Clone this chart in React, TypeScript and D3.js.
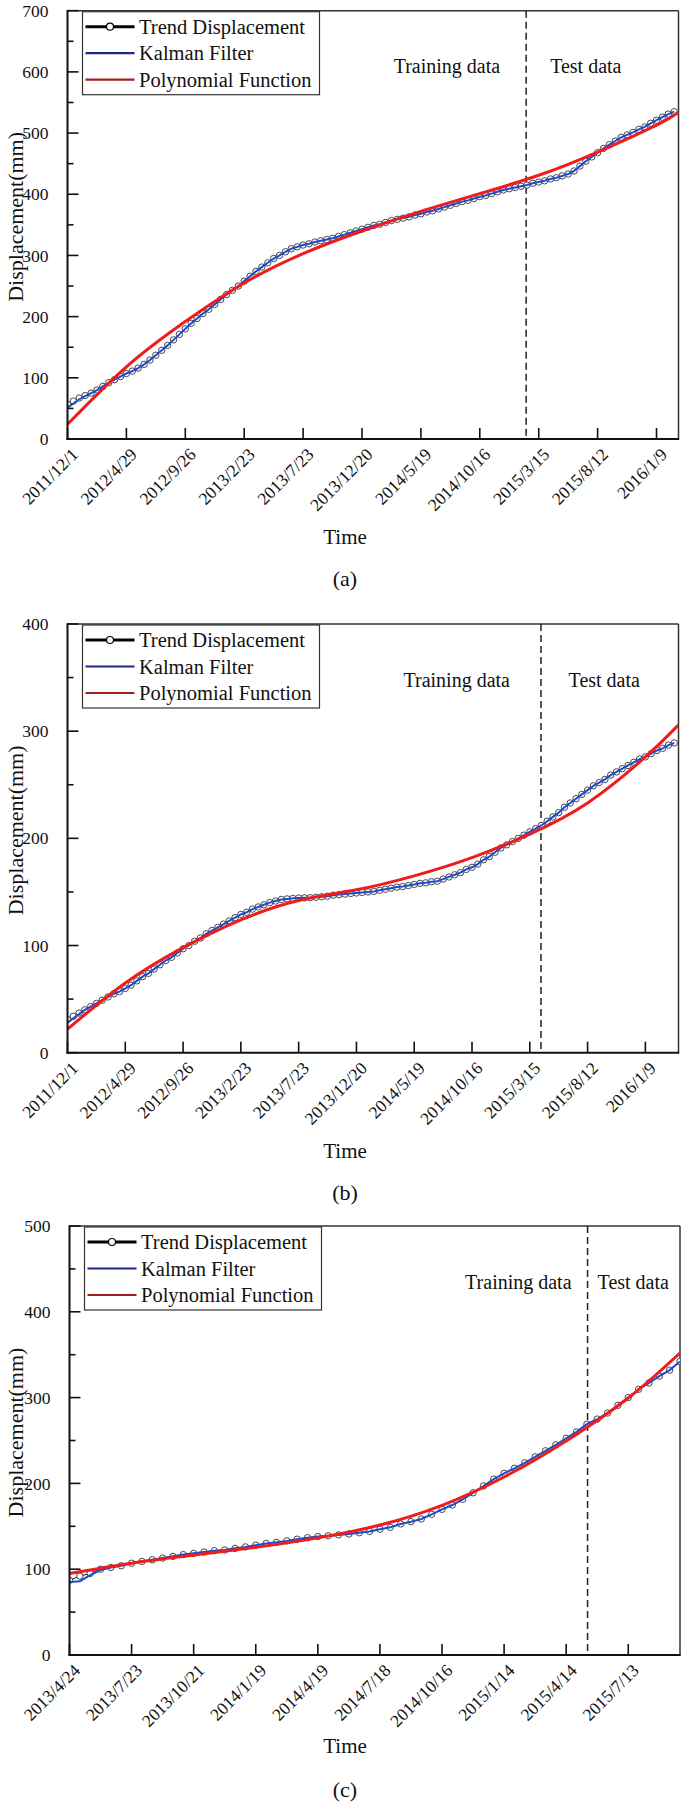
import React from "react";
import * as d3 from "d3";

const FONT = "'Liberation Serif','Times New Roman',Times,serif";
const parse = d3.utcParse("%Y/%m/%d");
const DAY = 86400000;
const STEP_DAYS = 15;

// ---------- tick labels ----------
const ticksA = ["2011/12/1", "2012/4/29", "2012/9/26", "2013/2/23", "2013/7/23", "2013/12/20", "2014/5/19", "2014/10/16", "2015/3/15", "2015/8/12", "2016/1/9"];
const ticksB = ["2011/12/1", "2012/4/29", "2012/9/26", "2013/2/23", "2013/7/23", "2013/12/20", "2014/5/19", "2014/10/16", "2015/3/15", "2015/8/12", "2016/1/9"];
const ticksC = ["2013/4/24", "2013/7/23", "2013/10/21", "2014/1/19", "2014/4/19", "2014/7/18", "2014/10/16", "2015/1/14", "2015/4/14", "2015/7/13"];

const legendNames = ["Trend Displacement", "Kalman Filter", "Polynomial Function"];

// ---------- panel (a) ----------
const trendA = [57, 62, 67, 71, 75, 80, 86, 92, 97, 102,
  107, 111, 116, 122, 129, 137, 145, 153, 162, 171,
  180, 189, 197, 205, 212, 220, 228, 236, 243, 250,
  258, 266, 274, 281, 288, 295, 300, 306, 311, 314,
  317, 319, 322, 324, 326, 328, 331, 334, 337, 340,
  343, 346, 349, 351, 354, 357, 359, 361, 363, 366,
  368, 371, 373, 376, 379, 382, 385, 388, 390, 393,
  396, 398, 401, 404, 407, 409, 411, 413, 415, 418,
  420, 422, 425, 427, 430, 433, 438, 446, 454, 461,
  468, 475, 481, 487, 493, 497, 501, 506, 510, 516,
  521, 526, 531, 535];
const kalmanA = [51, 58, 65, 70, 75, 80, 86, 92, 97, 102,
  107, 111, 116, 122, 129, 137, 145, 153, 162, 171,
  180, 189, 197, 205, 212, 220, 228, 236, 243, 250,
  258, 266, 274, 281, 288, 295, 300, 306, 311, 314,
  317, 319, 322, 324, 326, 328, 331, 334, 337, 340,
  343, 346, 349, 351, 354, 357, 359, 361, 363, 366,
  368, 371, 373, 376, 379, 382, 385, 388, 390, 393,
  396, 398, 401, 404, 407, 409, 411, 413, 415, 418,
  420, 422, 425, 427, 430, 433, 438, 446, 454, 461,
  468, 475, 481, 487, 493, 497, 501, 506, 510, 516,
  521, 526, 531, 535];
const polyDatesA = ["2011/12/1", "2012/4/29", "2012/9/26", "2013/2/23", "2013/7/23", "2013/12/20", "2014/5/19", "2014/10/16", "2015/3/15", "2015/8/12", "2016/1/9", "2016/3/5"];
const polyA = [24, 118, 192, 255, 303, 340, 372, 401, 431, 469, 513, 534];

// ---------- panel (b) ----------
const trendB = [31, 34, 37, 40, 43, 46, 49, 52, 55, 57,
  60, 63, 67, 71, 74, 78, 82, 86, 89, 93,
  97, 100, 104, 107, 111, 114, 117, 120, 123, 126,
  129, 131, 134, 136, 138, 140, 141.5, 143, 143.5, 144,
  144.3, 144.5, 144.6, 145, 145.5, 146, 147, 147.5, 148, 148.5,
  149, 149.5, 150, 150.5, 151.5, 152.5, 153.5, 154.5, 155, 156,
  157, 158, 158.5, 159.5, 160, 162, 164, 166, 168, 171,
  173, 176, 180, 183, 187, 191, 194, 197, 200, 203,
  206, 209, 212, 216, 220, 224, 229, 233, 237, 241,
  245, 249, 252, 255, 259, 262, 265, 268, 271, 274,
  276, 279, 282, 284, 287, 289];
const kalmanB = [28, 32, 36, 40, 43, 46, 49, 52, 55, 57,
  60, 63, 67, 71, 74, 78, 82, 86, 89, 93,
  97, 100, 104, 107, 111, 114, 117, 120, 123, 126,
  129, 131, 134, 136, 138, 140, 141.5, 143, 143.5, 144,
  144.3, 144.5, 144.6, 145, 145.5, 146, 147, 147.5, 148, 148.5,
  149, 149.5, 150, 150.5, 151.5, 152.5, 153.5, 154.5, 155, 156,
  157, 158, 158.5, 159.5, 160, 162, 164, 166, 168, 171,
  173, 176, 180, 183, 187, 191, 194, 197, 200, 203,
  206, 209, 212, 216, 220, 224, 229, 233, 237, 241,
  245, 249, 252, 255, 259, 262, 265, 268, 271, 274,
  276, 279, 282, 284, 287, 289];
const polyDatesB = ["2011/12/1", "2012/4/29", "2012/9/26", "2013/2/23", "2013/7/23", "2013/12/20", "2014/5/19", "2014/10/16", "2015/3/15", "2015/8/12", "2016/1/9", "2016/4/4"];
const polyB = [22, 65, 98, 124, 142, 152, 165, 182, 204, 233, 276, 306];

// ---------- panel (c) ----------
const trendC = [87, 92, 95, 100, 102, 104, 107, 109, 111, 113,
  115, 117, 118.5, 120, 121.6, 122.4, 124.3, 126, 128, 130,
  131.3, 133, 135, 136.7, 138, 139, 140, 141, 142.5, 144,
  146.5, 148.8, 152.7, 155.4, 158.5, 164, 169.8, 174.8, 181.5, 189,
  197, 205, 211.8, 217.6, 224, 231, 238, 245, 252.6, 260,
  269, 275, 282, 291, 300, 309.7, 317, 325, 332, 342];
const kalmanC = [85, 86, 93, 99, 102, 104, 107, 109, 111, 113,
  115, 117, 118.5, 120, 121.6, 122.4, 124.3, 126, 128, 130,
  131.3, 133, 135, 136.7, 138, 139, 140, 141, 142.5, 144,
  146.5, 148.8, 152.7, 155.4, 158.5, 164, 169.8, 174.8, 181.5, 189,
  197, 205, 211.8, 217.6, 224, 231, 238, 245, 252.6, 260,
  269, 275, 282, 291, 300, 309.7, 317, 325, 332, 342];
const polyDatesC = ["2013/4/24", "2013/7/23", "2013/10/21", "2014/1/19", "2014/4/19", "2014/7/18", "2014/10/16", "2015/1/14", "2015/4/14", "2015/7/13", "2015/9/26"];
const polyC = [95, 107, 116.5, 125.5, 136.5, 151.5, 174.5, 207.5, 249.5, 299.5, 352];

const BLUE = "#1d4bcc";
const RED = "#f01c1c";

type PanelProps = {
  top: number; bottom: number; left: number; right: number;
  start: string; end: string; ticks: string[]; yMax: number;
  trend: number[]; kalman: number[]; polyDates: string[]; poly: number[];
  split: string; trainGap: number; testGap: number; label: string;
  timeDy: number; labelDy: number;
};

function Panel(p: PanelProps) {
  const t0 = parse(p.start)!;
  const x = d3.scaleUtc().domain([t0, parse(p.end)!]).range([p.left, p.right]);
  const y = d3.scaleLinear().domain([0, p.yMax]).range([p.bottom, p.top]);
  const dateAt = (i: number) => new Date(t0.getTime() + i * STEP_DAYS * DAY);
  const trendPts: [Date, number][] = p.trend.map((v, i) => [dateAt(i), v]);
  const kalPts: [Date, number][] = p.kalman.map((v, i) => [dateAt(i), v]);
  const polyPts: [Date, number][] = p.poly.map((v, i) => [parse(p.polyDates[i])!, v]);
  const line = d3.line<[Date, number]>().x(d => x(d[0])).y(d => y(d[1]));
  const smooth = d3.line<[Date, number]>().x(d => x(d[0])).y(d => y(d[1])).curve(d3.curveNatural);
  const majors = d3.range(0, p.yMax + 1, 100);
  const minors = d3.range(50, p.yMax, 100);
  const sx = x(parse(p.split)!);
  const clipId = "clip" + p.label.replace(/\W/g, "");
  const lgX = p.left + 15, lgY = p.top + 1;
  const rowY = [lgY + 15, lgY + 41.5, lgY + 68];
  const midX = 345;
  return (
    <g>
      <defs>
        <clipPath id={clipId}>
          <rect x={p.left} y={p.top} width={p.right - p.left} height={p.bottom - p.top} />
        </clipPath>
      </defs>
      {/* frame */}
      <line x1={p.left} x2={p.right} y1={p.top} y2={p.top} stroke="#333" strokeWidth={1.5} />
      <line x1={p.right} x2={p.right} y1={p.top} y2={p.bottom} stroke="#333" strokeWidth={1.5} />
      {/* y ticks */}
      {majors.map(v => (
        <g key={"ym" + v}>
          <line x1={p.left} x2={p.left + 11} y1={y(v)} y2={y(v)} stroke="#111" strokeWidth={1.6} />
          <text x={p.left - 19} y={y(v)} dy="0.35em" textAnchor="end" fontSize={17.5} fontFamily={FONT} fill="#111">{v}</text>
        </g>
      ))}
      {minors.map(v => (
        <line key={"yn" + v} x1={p.left} x2={p.left + 6} y1={y(v)} y2={y(v)} stroke="#111" strokeWidth={1.6} />
      ))}
      {/* x ticks */}
      {p.ticks.map(t => {
        const tx = x(parse(t)!);
        return (
          <g key={"xt" + t}>
            <line x1={tx} x2={tx} y1={p.bottom} y2={p.bottom - 11} stroke="#111" strokeWidth={1.6} />
            <text transform={`translate(${tx + 3},${p.bottom + 8}) rotate(-45)`} dy="0.7em" textAnchor="end" fontSize={17.5} fontFamily={FONT} fill="#111">{t}</text>
          </g>
        );
      })}
      {/* split line */}
      <line x1={sx} x2={sx} y1={p.top} y2={p.bottom} stroke="#222" strokeWidth={1.5} strokeDasharray="7,4" />
      <text x={sx - p.trainGap} y={p.top + 62.7} textAnchor="end" fontSize={20} fontFamily={FONT} fill="#111">Training data</text>
      <text x={sx + p.testGap} y={p.top + 62.7} textAnchor="start" fontSize={20} fontFamily={FONT} fill="#111">Test data</text>
      {/* series */}
      <g clipPath={`url(#${clipId})`}>
        <path d={line(trendPts) || ""} fill="none" stroke="#111" strokeWidth={1} />
        {trendPts.map((d, i) => (
          <circle key={"c" + i} cx={x(d[0])} cy={y(d[1])} r={3.2} fill="#fff" stroke="#333" strokeWidth={0.9} />
        ))}
        <path d={line(kalPts) || ""} fill="none" stroke={BLUE} strokeWidth={2} />
        <path d={smooth(polyPts) || ""} fill="none" stroke={RED} strokeWidth={3} />
      </g>
      {/* axes */}
      <line x1={p.left} x2={p.left} y1={p.top - 0.7} y2={p.bottom + 1} stroke="#111" strokeWidth={2} />
      <line x1={p.left - 1} x2={p.right + 0.7} y1={p.bottom} y2={p.bottom} stroke="#111" strokeWidth={2} />
      {/* legend */}
      <rect x={lgX} y={lgY} width={237} height={83} fill="#fff" stroke="#333" strokeWidth={1.2} />
      <line x1={lgX + 3} x2={lgX + 52} y1={rowY[0]} y2={rowY[0]} stroke="#000" strokeWidth={3} />
      <circle cx={lgX + 27.5} cy={rowY[0]} r={3.5} fill="#fff" stroke="#000" strokeWidth={1.2} />
      <line x1={lgX + 3} x2={lgX + 52} y1={rowY[1]} y2={rowY[1]} stroke="#1b2a80" strokeWidth={2.2} />
      <line x1={lgX + 3} x2={lgX + 52} y1={rowY[2]} y2={rowY[2]} stroke="#a51c1c" strokeWidth={2.2} />
      {legendNames.map((n, i) => (
        <text key={n} x={lgX + 56.5} y={rowY[i]} dy="0.35em" fontSize={20.5} fontFamily={FONT} fill="#111">{n}</text>
      ))}
      {/* axis titles */}
      <text transform={`translate(23,${(p.top + p.bottom) / 2 - 8}) rotate(-90)`} textAnchor="middle" fontSize={22} fontFamily={FONT} fill="#111">Displacement(mm)</text>
      <text x={midX} y={p.bottom + p.timeDy} textAnchor="middle" fontSize={21} fontFamily={FONT} fill="#111">Time</text>
      <text x={midX} y={p.bottom + p.labelDy} textAnchor="middle" fontSize={22} fontFamily={FONT} fill="#111">{p.label}</text>
    </g>
  );
}

export default function App() {
  return (
    <svg width={685} height={1808} style={{ position: "absolute", left: 0, top: 0, background: "#fff" }}>
      <rect width={685} height={1808} fill="#fff" />
      <Panel top={10.7} bottom={439} left={67.5} right={678.5}
        start="2011/12/1" end="2016/3/5" ticks={ticksA} yMax={700}
        trend={trendA} kalman={kalmanA} polyDates={polyDatesA} poly={polyA}
        split="2015/2/11" trainGap={26} testGap={24} label="(a)" timeDy={105} labelDy={147} />
      <Panel top={624} bottom={1052.7} left={67.5} right={678.5}
        start="2011/12/1" end="2016/4/4" ticks={ticksB} yMax={400}
        trend={trendB} kalman={kalmanB} polyDates={polyDatesB} poly={polyB}
        split="2015/4/13" trainGap={31} testGap={27.6} label="(b)" timeDy={105} labelDy={147} />
      <Panel top={1226} bottom={1655} left={69.5} right={680}
        start="2013/4/24" end="2015/9/26" ticks={ticksC} yMax={500}
        trend={trendC} kalman={kalmanC} polyDates={polyDatesC} poly={polyC}
        split="2015/5/15" trainGap={16} testGap={10} label="(c)" timeDy={98} labelDy={142} />
    </svg>
  );
}
